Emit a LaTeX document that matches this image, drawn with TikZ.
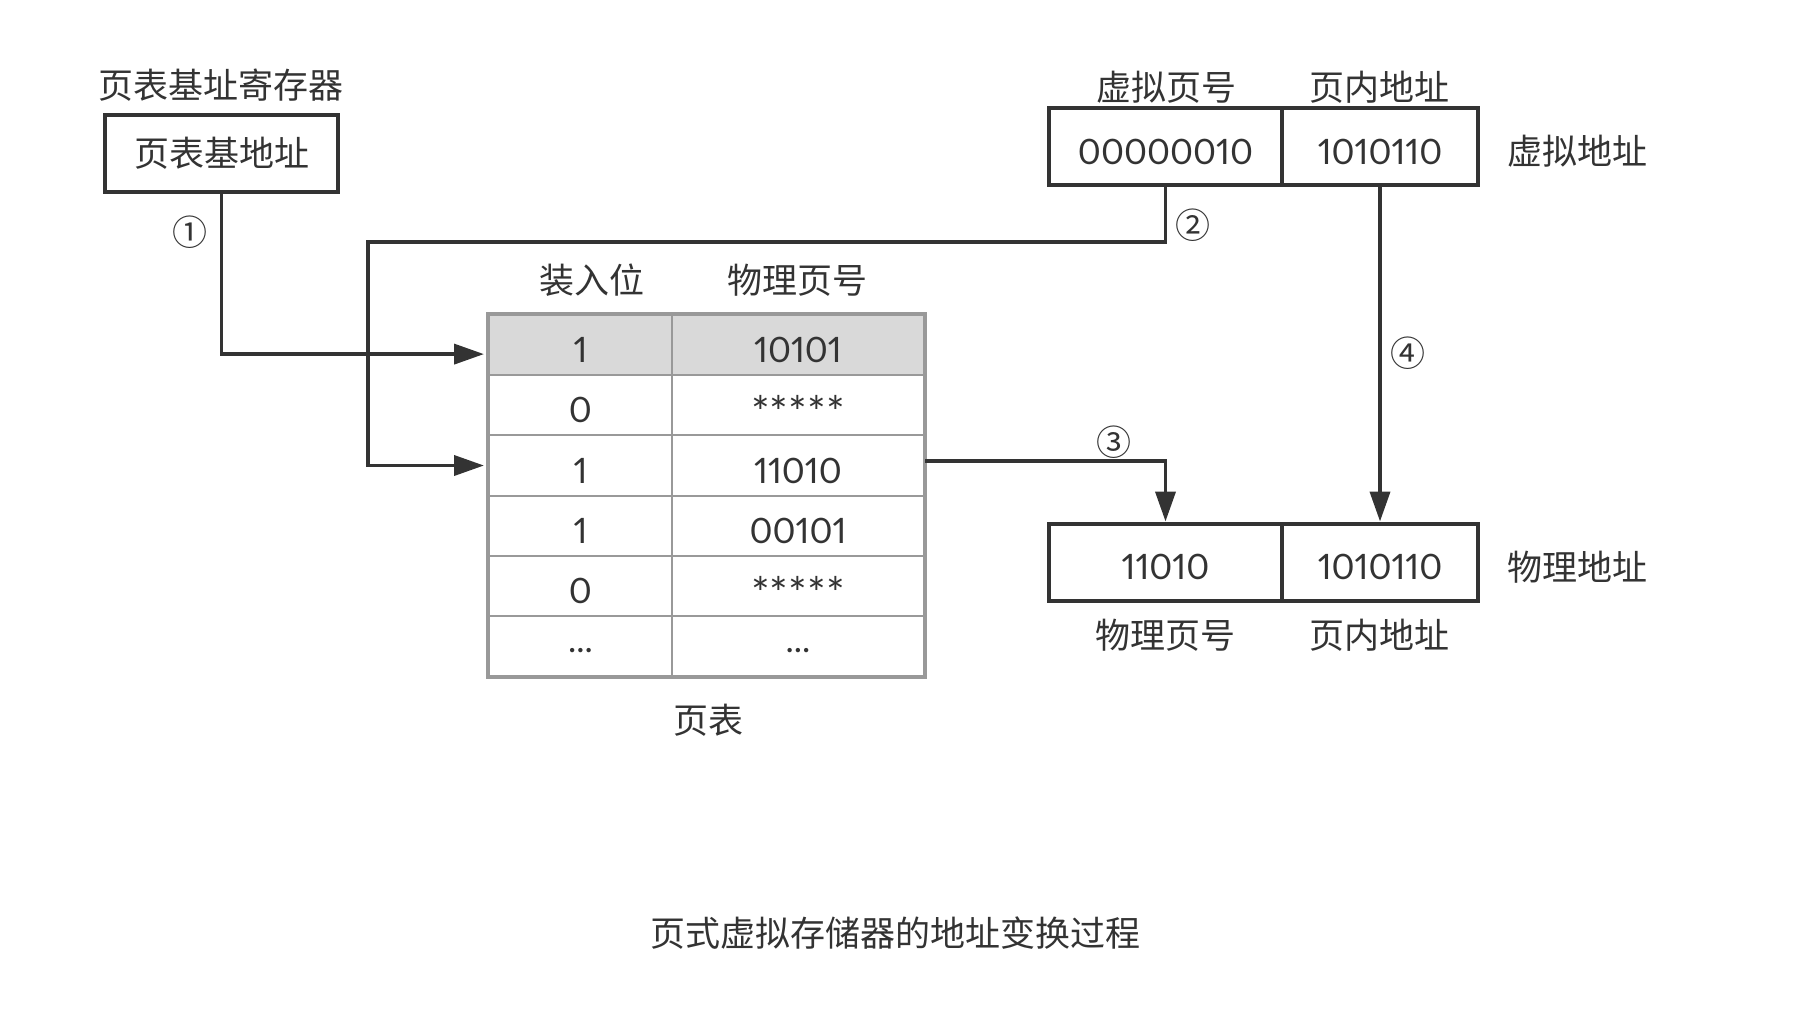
\documentclass[tikz,border=0pt]{standalone}
\usepackage{fontspec}
\setmainfont{Noto Sans CJK SC}
\newfontfamily\numf[Numbers=Proportional]{Lato}
\usetikzlibrary{arrows.meta,calc}
\definecolor{ink}{HTML}{333333}
\definecolor{tgray}{HTML}{999999}
\definecolor{tfill}{HTML}{D9D9D9}
\newcommand{\mystars}{\raisebox{-3pt}{\fontsize{22}{22}\selectfont *****}}
\newcommand{\mydots}{\raisebox{5.8pt}{...}}
\begin{document}
\begin{tikzpicture}[x=0.5pt,y=-0.5pt,
  font=\fontsize{17.5}{20}\selectfont, text=ink,
  lbl/.style={inner sep=0pt, anchor=center},
  numtext/.style={font=\fontsize{17.5}{20}\selectfont\numf, text height=17.6pt, text depth=0pt},
  box/.style={draw=ink, line width=2pt, minimum height=38.5pt, inner sep=0pt, numtext},
  cellA/.style={draw=tgray, line width=1pt, minimum width=91.5pt, minimum height=30.1pt, inner sep=0pt, numtext},
  cellB/.style={cellA, minimum width=126pt},
  conn/.style={draw=ink, line width=1.9pt},
  arr/.style={conn, -{Triangle[length=15pt,width=10pt]}}
]
\useasboundingbox (0,0) rectangle (1799,1019);

% page table base register
\node[lbl] (reglbl) at (221,85) {页表基址寄存器};
\node[draw=ink, line width=2pt, minimum height=38.5pt, inner sep=0pt, minimum width=116.5pt] (reg) at (221.5,153) {页表基地址};
\node[lbl] (n1) at (190,232) {①};

% virtual address
\node[lbl] (vpnlbl) at (1166,87) {虚拟页号};
\node[lbl] (vofflbl) at (1379,87) {页内地址};
\node[box, minimum width=116.5pt] (vpn) at (1165.5,146.5) {00000010};
\node[box, minimum width=98pt] (voff) at (1380,146.5) {1010110};
\node[lbl] (vlbl) at (1577,151) {虚拟地址};

% physical address
\node[box, minimum width=116.5pt] (pfn) at (1165.5,562) {11010};
\node[box, minimum width=98pt] (poff) at (1380,562) {1010110};
\node[lbl] (plbl) at (1577,567) {物理地址};
\node[lbl] (pfnlbl) at (1165,635) {物理页号};
\node[lbl] (pofflbl) at (1379,635) {页内地址};

% page table
\node[lbl] (h1) at (592,280) {装入位};
\node[lbl] (h2) at (797,280) {物理页号};
\node[cellA, fill=tfill] (t1a) at (580.5,345.1) {1};
\node[cellB, fill=tfill] (t1b) at (798,345.1) {10101};
\node[cellA] (t2a) at (580.5,405.3) {0};
\node[cellB] (t2b) at (798,405.3) {\mystars};
\node[cellA] (t3a) at (580.5,465.5) {1};
\node[cellB] (t3b) at (798,465.5) {11010};
\node[cellA] (t4a) at (580.5,525.7) {1};
\node[cellB] (t4b) at (798,525.7) {00101};
\node[cellA] (t5a) at (580.5,585.9) {0};
\node[cellB] (t5b) at (798,585.9) {\mystars};
\node[cellA] (t6a) at (580.5,646.1) {\mydots};
\node[cellB] (t6b) at (798,646.1) {\mydots};
\draw[tgray, line width=2pt] (t1a.north west) rectangle (t6b.south east);
\node[lbl] (tlbl) at (708,720) {页表};

% connectors
\coordinate (c1) at ($(t1a.west)+(0,9)$);
\draw[arr, shorten >=2pt] (reg.south) |- (c1);

\coordinate (c2) at (368,242);
\draw[arr, shorten >=2pt] (vpn.south) |- (c2) |- (t3a.west);
\node[lbl] (n2) at (1193,225) {②};

\coordinate (c3) at ($(t3b.east)+(0,-4.5)$);
\draw[arr] (c3) -| (pfn.north);
\node[lbl] (n3) at (1114,442) {③};

\draw[arr] (voff.south) -- (poff.north);
\node[lbl] (n4) at (1408,353) {④};

% title
\node[lbl] (title) at (895,933) {页式虚拟存储器的地址变换过程};
\end{tikzpicture}
\end{document}
